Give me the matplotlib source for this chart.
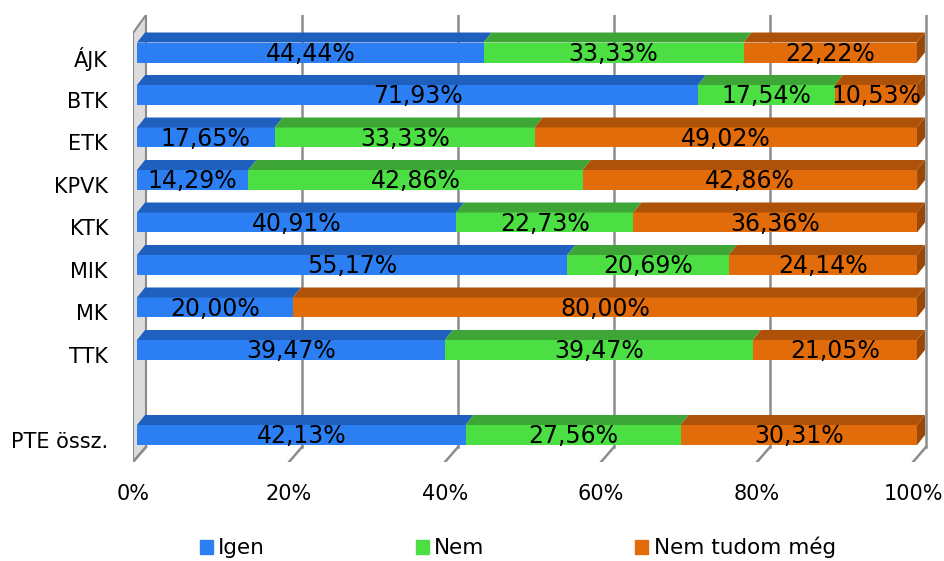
import numpy as np
import matplotlib
matplotlib.use('Agg')
import matplotlib.pyplot as plt
from matplotlib.patches import Polygon, Patch
from matplotlib.transforms import ScaledTranslation

# categories, top to bottom (empty slot before the total)
categories = ['ÁJK', 'BTK', 'ETK', 'KPVK', 'KTK', 'MIK', 'MK', 'TTK', '', 'PTE össz.']
igen = [44.44, 71.93, 17.65, 14.29, 40.91, 55.17, 20.00, 39.47, 0, 42.13]
nem = [33.33, 17.54, 33.33, 42.86, 22.73, 20.69, 0.00, 39.47, 0, 27.56]
nem_tudom = [22.22, 10.53, 49.02, 42.86, 36.36, 24.14, 80.00, 21.05, 0, 30.31]
series_names = ['Igen', 'Nem', 'Nem tudom még']

front_colors = ['#2b7ff2', '#4cdf44', '#e36c0a']
top_colors = ['#1f5fbd', '#3da636', '#ad5208']
side_color = '#9a4807'

plt.rcParams['font.family'] = 'DejaVu Sans'

# pixel mapping of the pseudo 3D box
W, H = 945, 561
ax_l, ax_r, ax_t, ax_b = 133, 930, 15, 462
px_per_x = 7.8
bar_x0 = 137
row_y0, row_step = 52.5, 42.5

fig = plt.figure(figsize=(W / 100, H / 100), dpi=100)
ax = fig.add_axes([ax_l / W, (H - ax_b) / H, (ax_r - ax_l) / W, (ax_b - ax_t) / H])
ax.set_xlim((ax_l - bar_x0) / px_per_x, (ax_r - bar_x0) / px_per_x)
ax.set_ylim((ax_b - row_y0) / row_step, (ax_t - row_y0) / row_step)

# depth offsets
back_dx = 9 / px_per_x
front_dx = -4 / px_per_x
bar_dx = 8 / px_per_x
bar_dy = 10 / row_step
bar_h = 20 / row_step
top_back = (15 - row_y0) / row_step
top_front = (33 - row_y0) / row_step
floor_back = (447 - row_y0) / row_step
floor_front = (462 - row_y0) / row_step

# side wall
wall = Polygon([(front_dx, top_front), (back_dx, top_back), (back_dx, floor_back), (front_dx, floor_front)],
               closed=True, facecolor='#dcdcdc', edgecolor='#8a8a8a', lw=1.5, zorder=1)
ax.add_patch(wall)

# back gridlines and floor slants
for v in range(20, 101, 20):
    ax.plot([v + back_dx, v + back_dx], [top_back, floor_back], color='#8c8c8c', lw=1.8, zorder=1)
    ax.plot([v + back_dx, v + front_dx], [floor_back, floor_front], color='#8c8c8c', lw=1.8, zorder=1)
ax.plot([back_dx, front_dx], [floor_back, floor_front], color='#8c8c8c', lw=1.8, zorder=1)

rows = np.arange(len(categories))
data = [igen, nem, nem_tudom]
lefts = np.zeros(len(categories))
for k, vals in enumerate(data):
    vals = np.array(vals)
    for r, (left, w) in enumerate(zip(lefts, vals)):
        if w <= 0:
            continue
        y_top = r - bar_h / 2
        ax.barh(r, w, left=left, height=bar_h, color=front_colors[k], zorder=3)
        ax.add_patch(Polygon([(left, y_top), (left + w, y_top), (left + w + bar_dx, y_top - bar_dy),
                              (left + bar_dx, y_top - bar_dy)], closed=True,
                             facecolor=top_colors[k], edgecolor='none', zorder=3))
        if k == len(data) - 1:
            ax.add_patch(Polygon([(left + w, y_top), (left + w + bar_dx, y_top - bar_dy),
                                  (left + w + bar_dx, y_top + bar_h - bar_dy), (left + w, y_top + bar_h)],
                                 closed=True, facecolor=side_color, edgecolor='none', zorder=3))
        ax.text(left + w / 2, r + 0.03, f'{w:.2f}%'.replace('.', ','), ha='center', va='center',
                fontsize=17, color='black', zorder=5)
    lefts = lefts + vals

# axes decoration
for s in ax.spines.values():
    s.set_visible(False)
ax.set_yticks(rows)
ax.set_yticklabels(categories, fontsize=15)
ax.tick_params(axis='y', length=0, pad=18)
for lab in ax.get_yticklabels():
    lab.set_transform(lab.get_transform() + ScaledTranslation(0, -5 / 100, fig.dpi_scale_trans))
ax.set_xticks(np.arange(0, 101, 20) + front_dx)
ax.set_xticklabels([f'{v}%' for v in range(0, 101, 20)], fontsize=15)
ax.tick_params(axis='x', length=0, pad=16)
ax.set_facecolor('none')

handles = [Patch(color=c) for c in front_colors]
fig.legend(handles, series_names, loc='lower center', bbox_to_anchor=(0.548, -0.03), ncol=3,
           frameon=False, fontsize=15.5, handlelength=0.6, handleheight=0.6, handletextpad=0.25,
           columnspacing=7.0)

fig.savefig('out.png', dpi=100)
